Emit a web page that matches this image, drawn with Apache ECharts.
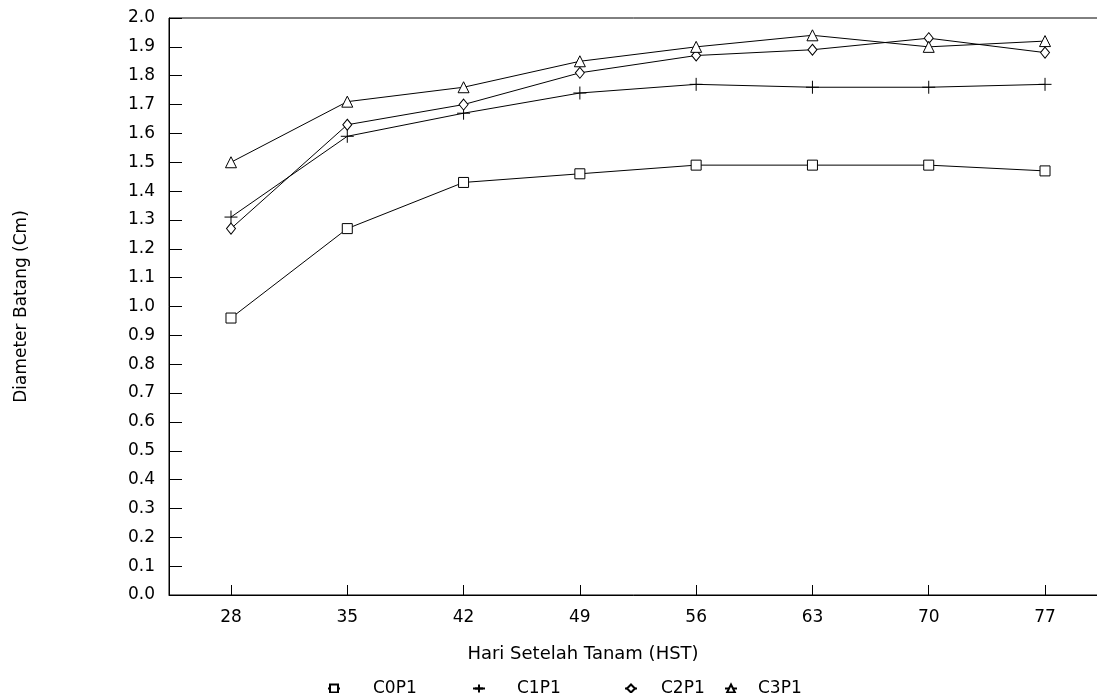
<!DOCTYPE html>
<html><head><meta charset="utf-8">
<script src="https://cdn.jsdelivr.net/npm/echarts@6/dist/echarts.min.js"></script>
<style>html,body{margin:0;padding:0;background:#fff}#c{width:1097px;height:693px}</style>
</head><body><div id="c"></div>
<script>
const days = [28, 35, 42, 49, 56, 63, 70, 77];
const seriesNames = ['C0P1', 'C1P1', 'C2P1', 'C3P1'];
const c0p1 = [0.96, 1.27, 1.43, 1.46, 1.49, 1.49, 1.49, 1.47];
const c1p1 = [1.31, 1.59, 1.67, 1.74, 1.77, 1.76, 1.76, 1.77];
const c2p1 = [1.27, 1.63, 1.70, 1.81, 1.87, 1.89, 1.93, 1.88];
const c3p1 = [1.50, 1.71, 1.76, 1.85, 1.90, 1.94, 1.90, 1.92];
const values = [c0p1, c1p1, c2p1, c3p1];

const symbols = ['rect', 'path://M5,0 L5,10 M0,5 L10,5', 'diamond', 'triangle'];
const sizes = [10, 13, [9, 11], 11];
const FONT = 'DejaVu Sans';

const series = seriesNames.map((n, i) => ({
  name: n,
  type: 'line',
  data: days.map((d, j) => [d, values[i][j]]),
  symbol: symbols[i],
  symbolSize: sizes[i],
  showAllSymbol: true,
  lineStyle: { color: '#000', width: 1 },
  itemStyle: { color: '#fff', borderColor: '#000', borderWidth: 1 },
  emphasis: { disabled: true },
  animation: false
}));

const legendLefts = [322, 467, 619, 719];
const legendPads = [28, 27, 19, 16];
const legends = seriesNames.map((n, i) => ({
  data: [n],
  left: legendLefts[i],
  top: 675,
  itemWidth: 12,
  itemHeight: 10,
  selectedMode: false,
  textStyle: { fontFamily: FONT, fontSize: 17, color: '#000', padding: [0, 0, 0, legendPads[i]] }
}));

const chart = echarts.init(document.getElementById('c'));
chart.setOption({
  animation: false,
  backgroundColor: '#fff',
  grid: { left: 169, right: -6, top: 18, bottom: 98, outerBoundsMode: 'none', containLabel: false, show: true, borderColor: '#000', borderWidth: 1, backgroundColor: 'transparent' },
  legend: legends,
  xAxis: {
    type: 'value',
    min: 24.268,
    max: 80.49,
    name: 'Hari Setelah Tanam (HST)',
    nameLocation: 'middle',
    nameGap: 50,
    nameTextStyle: { fontFamily: FONT, fontSize: 18, color: '#000', padding: [0, 106, 0, 0] },
    axisLine: { show: true, lineStyle: { color: '#000', width: 1 } },
    axisTick: { show: true, inside: true, length: 10, customValues: days, lineStyle: { color: '#000' } },
    axisLabel: { customValues: days, fontFamily: FONT, fontSize: 17, color: '#000', margin: 14 },
    splitLine: { show: false }
  },
  yAxis: {
    type: 'value',
    min: 0,
    max: 2.0,
    interval: 0.1,
    name: 'Diameter Batang (Cm)',
    nameLocation: 'middle',
    nameGap: 139,
    nameTextStyle: { fontFamily: FONT, fontSize: 17, color: '#000' },
    axisLine: { show: true, lineStyle: { color: '#000', width: 1 } },
    axisTick: { show: true, inside: true, length: 13, lineStyle: { color: '#000' } },
    axisLabel: { fontFamily: FONT, fontSize: 17, color: '#000', margin: 14, formatter: v => v.toFixed(1) },
    splitLine: { show: false }
  },
  series: series
});
</script>
</body></html>
